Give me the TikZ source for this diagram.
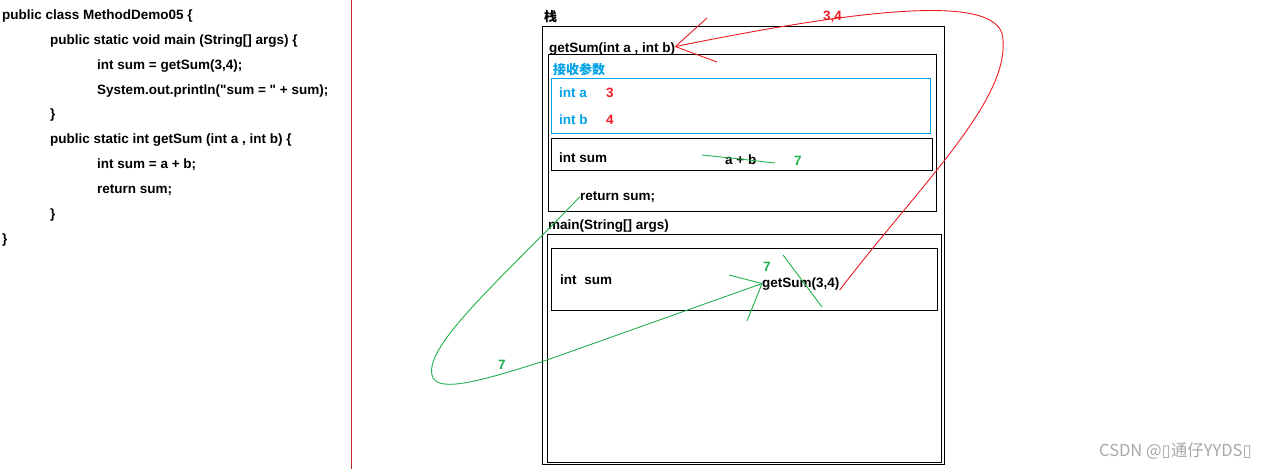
\documentclass[tikz,border=0pt]{standalone}
\usepackage{fontspec}
\setmainfont{Liberation Sans}
\newfontfamily\lsans{Liberation Sans}
\newfontfamily\cjk{Noto Sans CJK SC}
\newfontfamily\dvs{DejaVu Sans}
\definecolor{pblue}{HTML}{00A2E8}
\definecolor{pred}{HTML}{ED1C24}
\definecolor{pgreen}{HTML}{22B14C}
\definecolor{sepred}{HTML}{C0282D}
\definecolor{wmgray}{HTML}{A8A8A8}
\tikzset{
  txt/.style={inner sep=0pt, anchor=base west, font=\fontsize{13.5}{16}\selectfont\lsans\bfseries},
  cjktxt/.style={inner sep=0pt, anchor=west, font=\fontsize{13}{15}\selectfont\cjk\bfseries},
  framebox/.style={draw=black, line width=1pt, inner sep=0pt, anchor=north west},
  bluebox/.style={draw=pblue, line width=1pt, inner sep=0pt, anchor=north west},
  redline/.style={draw=pred, line width=0.9pt},
  greenline/.style={draw=pgreen, line width=0.9pt},
}
\begin{document}
\begin{tikzpicture}[x=1pt,y=-1pt]
\useasboundingbox (0,0) rectangle (1271,469);
\fill[white] (0,0) rectangle (1271,469);

% separator
\draw[sepred, line width=1pt] (351.5,0) -- (351.5,469);

% code
\node[txt] (c1) at (2,19.5) {public class MethodDemo05 \{};
\node[txt] (c2) at (50,44.4) {public static void main (String[] args) \{};
\node[txt] (c3) at (97,69.2) {int sum = getSum(3,4);};
\node[txt] (c4) at (97,94.1) {System.out.println("sum = " + sum);};
\node[txt] (c5) at (50,118.9) {\}};
\node[txt] (c6) at (50,143.8) {public static int getSum (int a , int b) \{};
\node[txt] (c7) at (97,168.6) {int sum = a + b;};
\node[txt] (c8) at (97,193.5) {return sum;};
\node[txt] (c9) at (50,218.3) {\}};
\node[txt] (c10) at (2,243.2) {\}};

% stack frames
\node[cjktxt] (zhan) at (544,17) {栈};
\node[framebox, minimum width=402pt, minimum height=438pt] (stack) at (542,26) {};
\node[txt] (sig) at (549,52) {getSum(int a , int b)};
\node[framebox, minimum width=388pt, minimum height=157pt] (gsframe) at (548,54) {};
\node[cjktxt, text=pblue] (recv) at (553,69) {接收参数};
\node[bluebox, minimum width=379pt, minimum height=55pt] (params) at (551,78) {};
\node[txt, text=pblue] (inta) at (559,97) {int a};
\node[txt, text=pred] (va) at (606,97) {3};
\node[txt, text=pblue] (intb) at (559,124) {int b};
\node[txt, text=pred] (vb) at (606,124) {4};
\node[framebox, minimum width=381pt, minimum height=32pt] (sumbox) at (551,138) {};
\node[txt] (isum) at (559,162) {int sum};
\node[txt] (apb) at (725,164) {a + b};
\node[txt, text=pgreen] (seven1) at (794,165) {7};
\node[txt] (ret) at (580,200) {return sum;};

\node[txt] (mainsig) at (548,229) {main(String[] args)};
\node[framebox, minimum width=394pt, minimum height=228pt] (mainframe) at (547,234) {};
\node[framebox, minimum width=386pt, minimum height=62pt] (msumbox) at (551,248) {};
\node[txt] (misum) at (560,284) {int\hspace{4pt} sum};
\node[txt] (call) at (762,287) {getSum(3,4)};
\node[txt, text=pgreen] (seven2) at (763,271) {7};

% red connector: arguments 3,4 passed to getSum
\coordinate (rtip) at ([yshift=2pt]sig.east);
\draw[redline] (call.south east) .. controls (920,185) and (1008,102) .. (1003,40)
   .. controls (1003,-5) and (880,5) .. (rtip);
\draw[redline] (rtip) -- (707,18);
\draw[redline] (rtip) -- (717,62);
\node[txt, text=pred] (args) at (823,20.5) {3,4};

% green strike marks
\draw[greenline] (702,155) -- (740,159) -- (775,163);
\draw[greenline] (783,255) -- (822,307);

% green connector: return value 7 back to caller
\coordinate (gtip) at (call.west);
\draw[greenline] (ret.west) .. controls (500,280) and (425,345) .. (432,375)
   .. controls (436,392) and (470,385) .. (547,360) -- (gtip);
\draw[greenline] (gtip) -- (729,275);
\draw[greenline] (gtip) -- (747,321);
\node[txt, text=pgreen] (seven3) at (498,369) {7};

% watermark
\node[inner sep=0pt, anchor=base west, text=wmgray, font=\fontsize{16.5}{19}\selectfont\cjk] (wm) at (1099,456)
  {CSDN @{\dvs ▯}通仔YYDS{\dvs ▯}};
\end{tikzpicture}
\end{document}
